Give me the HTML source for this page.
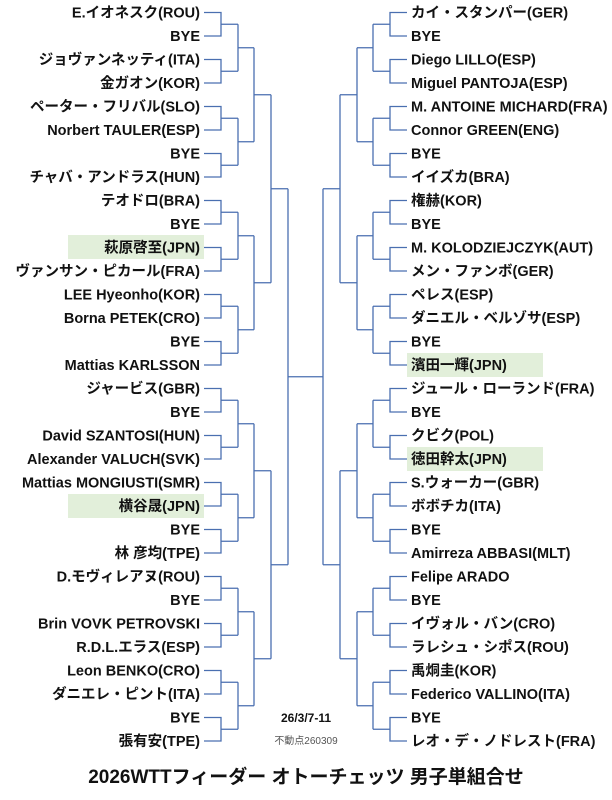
<!DOCTYPE html>
<html><head><meta charset="utf-8"><style>
html,body{margin:0;padding:0;background:#fff;width:612px;height:800px;overflow:hidden}
svg{display:block}
text{font-family:"Liberation Sans","Noto Sans CJK JP",sans-serif;font-weight:bold;fill:#111}
</style></head><body>
<svg width="612" height="800" viewBox="0 0 612 800" xmlns="http://www.w3.org/2000/svg">
<defs>
<path id="tree" fill="none" stroke="#4a6fb0" stroke-width="1.3" d="
M204 12.5H221V36H204M221 24.25H238
M204 59.5H221V83H204M221 71.25H238
M204 106.5H221V130H204M221 118.25H238
M204 153.5H221V177H204M221 165.25H238
M204 200.5H221V224H204M221 212.25H238
M204 247.5H221V271H204M221 259.25H238
M204 294.5H221V318H204M221 306.25H238
M204 341.5H221V365H204M221 353.25H238
M204 388.5H221V412H204M221 400.25H238
M204 435.5H221V459H204M221 447.25H238
M204 482.5H221V506H204M221 494.25H238
M204 529.5H221V553H204M221 541.25H238
M204 576.5H221V600H204M221 588.25H238
M204 623.5H221V647H204M221 635.25H238
M204 670.5H221V694H204M221 682.25H238
M204 717.5H221V741H204M221 729.25H238
M238 24.25V71.25M238 47.75H254
M238 118.25V165.25M238 141.75H254
M238 212.25V259.25M238 235.75H254
M238 306.25V353.25M238 329.75H254
M238 400.25V447.25M238 423.75H254
M238 494.25V541.25M238 517.75H254
M238 588.25V635.25M238 611.75H254
M238 682.25V729.25M238 705.75H254
M254 47.75V141.75M254 94.75H271
M254 235.75V329.75M254 282.75H271
M254 423.75V517.75M254 470.75H271
M254 611.75V705.75M254 658.75H271
M271 94.75V282.75M271 188.75H288
M271 470.75V658.75M271 564.75H288
M288 188.75V564.75"/>
</defs>
<rect x="68" y="235" width="136" height="24" fill="#e2efda"/>
<rect x="68" y="494" width="136" height="24" fill="#e2efda"/>
<rect x="407" y="353" width="136" height="24" fill="#e2efda"/>
<rect x="407" y="447" width="136" height="24" fill="#e2efda"/>
<use href="#tree"/>
<g transform="translate(611,0) scale(-1,1)"><use href="#tree"/></g>
<path d="M288 376.75H323" stroke="#4a6fb0" stroke-width="1.3" fill="none"/>
<g font-size="14.5" text-anchor="end">
<text x="200" y="17.5">E.イオネスク(ROU)</text>
<text x="200" y="41">BYE</text>
<text x="200" y="64.5">ジョヴァンネッティ(ITA)</text>
<text x="200" y="88">金ガオン(KOR)</text>
<text x="200" y="111.5">ペーター・フリバル(SLO)</text>
<text x="200" y="135">Norbert TAULER(ESP)</text>
<text x="200" y="158.5">BYE</text>
<text x="200" y="182">チャバ・アンドラス(HUN)</text>
<text x="200" y="205.5">テオドロ(BRA)</text>
<text x="200" y="229">BYE</text>
<text x="200" y="252.5">萩原啓至(JPN)</text>
<text x="200" y="276">ヴァンサン・ピカール(FRA)</text>
<text x="200" y="299.5">LEE Hyeonho(KOR)</text>
<text x="200" y="323">Borna PETEK(CRO)</text>
<text x="200" y="346.5">BYE</text>
<text x="200" y="370">Mattias KARLSSON</text>
<text x="200" y="393.5">ジャービス(GBR)</text>
<text x="200" y="417">BYE</text>
<text x="200" y="440.5">David SZANTOSI(HUN)</text>
<text x="200" y="464">Alexander VALUCH(SVK)</text>
<text x="200" y="487.5">Mattias MONGIUSTI(SMR)</text>
<text x="200" y="511">横谷晟(JPN)</text>
<text x="200" y="534.5">BYE</text>
<text x="200" y="558">林 彦均(TPE)</text>
<text x="200" y="581.5">D.モヴィレアヌ(ROU)</text>
<text x="200" y="605">BYE</text>
<text x="200" y="628.5">Brin VOVK PETROVSKI</text>
<text x="200" y="652">R.D.L.エラス(ESP)</text>
<text x="200" y="675.5">Leon BENKO(CRO)</text>
<text x="200" y="699">ダニエレ・ピント(ITA)</text>
<text x="200" y="722.5">BYE</text>
<text x="200" y="746">張有安(TPE)</text>
</g>
<g font-size="14.5" text-anchor="start">
<text x="411" y="17.5">カイ・スタンパー(GER)</text>
<text x="411" y="41">BYE</text>
<text x="411" y="64.5">Diego LILLO(ESP)</text>
<text x="411" y="88">Miguel PANTOJA(ESP)</text>
<text x="411" y="111.5">M. ANTOINE MICHARD(FRA)</text>
<text x="411" y="135">Connor GREEN(ENG)</text>
<text x="411" y="158.5">BYE</text>
<text x="411" y="182">イイズカ(BRA)</text>
<text x="411" y="205.5">権赫(KOR)</text>
<text x="411" y="229">BYE</text>
<text x="411" y="252.5">M. KOLODZIEJCZYK(AUT)</text>
<text x="411" y="276">メン・ファンボ(GER)</text>
<text x="411" y="299.5">ペレス(ESP)</text>
<text x="411" y="323">ダニエル・ベルゾサ(ESP)</text>
<text x="411" y="346.5">BYE</text>
<text x="411" y="370">濱田一輝(JPN)</text>
<text x="411" y="393.5">ジュール・ローランド(FRA)</text>
<text x="411" y="417">BYE</text>
<text x="411" y="440.5">クビク(POL)</text>
<text x="411" y="464">徳田幹太(JPN)</text>
<text x="411" y="487.5">S.ウォーカー(GBR)</text>
<text x="411" y="511">ボボチカ(ITA)</text>
<text x="411" y="534.5">BYE</text>
<text x="411" y="558">Amirreza ABBASI(MLT)</text>
<text x="411" y="581.5">Felipe ARADO</text>
<text x="411" y="605">BYE</text>
<text x="411" y="628.5">イヴォル・バン(CRO)</text>
<text x="411" y="652">ラレシュ・シポス(ROU)</text>
<text x="411" y="675.5">禹烔圭(KOR)</text>
<text x="411" y="699">Federico VALLINO(ITA)</text>
<text x="411" y="722.5">BYE</text>
<text x="411" y="746">レオ・デ・ノドレスト(FRA)</text>
</g>
<text x="306" y="722" font-size="12" text-anchor="middle">26/3/7-11</text>
<text x="306" y="744" font-size="10" text-anchor="middle" style="font-weight:normal;fill:#555">不動点260309</text>
<text x="306" y="783" font-size="19" text-anchor="middle">2026WTTフィーダー オトーチェッツ 男子単組合せ</text>
</svg>
</body></html>
